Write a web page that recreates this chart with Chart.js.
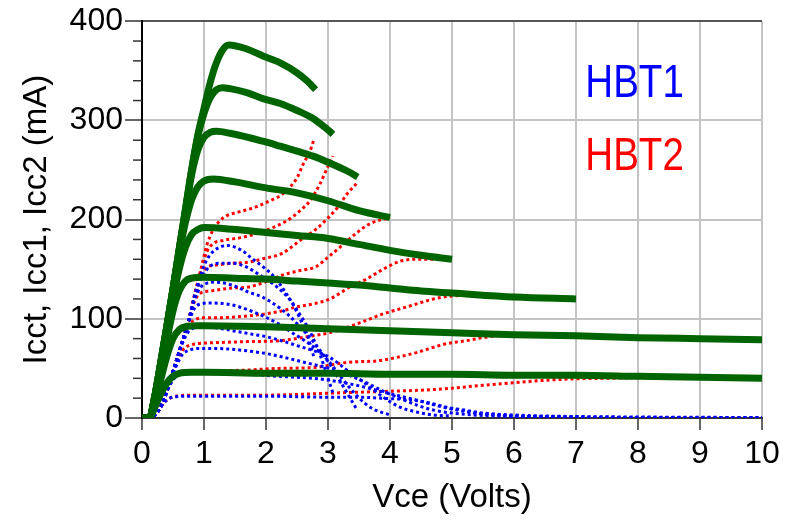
<!DOCTYPE html>
<html><head><meta charset="utf-8">
<script src="https://cdn.jsdelivr.net/npm/chart.js@4.4.1/dist/chart.umd.min.js"></script>
<style>html,body{margin:0;padding:0;background:#fff}canvas{display:block}</style>
</head><body>
<canvas id="c" width="791" height="520"></canvas>
<script>
// ---- data: [Vce (V), current (mA)] ----
const icct1 = [[0,0],[0.12,0],[0.2,10],[0.3,24],[0.4,35],[0.5,42],[0.6,45],[0.8,46],[1,46],[2,45],[3,45],[4,44],[5,44],[6,43],[7,43],[8,42],[9,41],[10,40]];
const icct2 = [[0,0],[0.12,0],[0.2,14],[0.3,38],[0.4,62],[0.5,80],[0.6,89],[0.7,92],[0.9,93],[1,93],[2,92],[3,90],[4,88],[5,86],[6,84],[7,83],[8,81],[9,80],[10,79]];
const icct3 = [[0,0],[0.12,0],[0.2,17],[0.3,46],[0.4,78],[0.5,108],[0.6,128],[0.7,138],[0.8,141],[1,142],[1.5,141],[2,140],[2.5,138],[3,136],[3.5,134],[4,131],[4.5,128],[5,126],[6,122],[7,120]];
const icct4 = [[0,0],[0.12,0],[0.2,19],[0.3,50],[0.4,85],[0.5,120],[0.6,150],[0.7,172],[0.8,185],[0.9,190],[1,192],[1.5,190],[2,187],[2.5,184],[3,181],[3.5,175],[4,169],[4.5,164],[5,160]];
const icct5 = [[0,0],[0.12,0],[0.2,20],[0.3,55],[0.4,92],[0.5,130],[0.6,166],[0.7,197],[0.8,220],[0.9,233],[1,239],[1.15,241],[1.5,238],[2,232],[2.5,227],[3,219],[3.5,209],[4,202]];
const icct6 = [[0,0],[0.12,0],[0.2,20],[0.3,55],[0.4,92],[0.5,130],[0.6,170],[0.7,208],[0.8,245],[0.9,270],[1,283],[1.1,288],[1.2,289],[1.42,287],[1.95,279],[2.23,274],[2.5,269],[2.76,264],[3.03,257],[3.31,249],[3.48,243]];
const icct7 = [[0,0],[0.12,0],[0.2,20],[0.3,55],[0.4,92],[0.5,130],[0.6,170],[0.7,210],[0.8,250],[0.9,284],[1,307],[1.1,323],[1.2,331],[1.3,333],[1.42,332],[1.69,328],[1.95,322],[2.23,317],[2.5,310],[2.76,302],[2.95,293],[3.08,286]];
const icct8 = [[0,0],[0.12,0],[0.2,20],[0.3,55],[0.4,92],[0.5,130],[0.6,170],[0.7,210],[0.8,250],[0.9,285],[1,312],[1.1,338],[1.2,358],[1.3,371],[1.4,376],[1.69,372],[1.95,365],[2.23,358],[2.5,348],[2.66,340],[2.8,331]];

const icc2_1 = [[0,0],[0.12,0],[0.25,6],[0.35,15],[0.45,20],[0.55,22],[0.7,23],[1,23],[2,23],[3,25],[3.5,26],[4,27],[4.5,28],[5,30],[5.5,33],[6,35.5],[6.5,38],[7,39.5],[7.5,40],[8,40.5],[9,40.5],[10,40]];
const icc2_2 = [[0,0],[0.12,0],[0.25,6],[0.35,18],[0.45,34],[0.55,43],[0.65,47],[0.8,48],[1,48],[1.5,48],[2.2,50],[2.8,51],[3,53],[3.3,56],[3.84,58],[4.37,65],[4.92,75],[5.24,78],[5.5,81],[6,84],[7,83],[8,81],[9,80],[10,79]];
const icc2_3 = [[0,0],[0.12,0],[0.25,6],[0.35,18],[0.45,37],[0.55,55],[0.65,68],[0.75,73],[0.9,75],[1.2,76],[1.7,77],[2.23,78],[2.76,83],[3.03,86],[3.3,91],[3.6,98],[3.89,105],[4.16,110],[4.43,115],[4.7,120],[5,123],[5.5,124],[6,122],[7,120]];
const icc2_4 = [[0,0],[0.12,0],[0.25,6],[0.35,18],[0.45,37],[0.55,57],[0.65,77],[0.75,93],[0.85,99],[1,101],[1.2,101],[1.71,103],[2,105],[2.26,108],[2.5,112],[2.76,115],[3.03,120],[3.2,126],[3.35,132],[3.62,140],[3.89,150],[4.16,158],[4.43,160],[5,160]];
const icc2_5 = [[0,0],[0.12,0],[0.25,6],[0.35,18],[0.45,37],[0.55,57],[0.65,77],[0.75,98],[0.85,118],[0.95,126],[1.1,128],[1.45,131],[1.71,132],[1.98,137],[2.26,144],[2.5,148],[2.82,153],[2.98,161],[3.19,172],[3.47,187],[3.68,196],[4,202]];
const icc2_6 = [[0,0],[0.12,0],[0.25,6],[0.35,18],[0.45,37],[0.55,57],[0.65,77],[0.75,98],[0.85,122],[0.95,144],[1.05,152],[1.18,154],[1.45,156],[1.71,157],[1.98,161],[2.26,166],[2.55,179],[2.82,191],[2.99,201],[3.15,212],[3.31,226],[3.47,237]];
const icc2_7 = [[0,0],[0.12,0],[0.25,6],[0.35,18],[0.45,37],[0.55,57],[0.65,77],[0.75,98],[0.85,124],[0.95,148],[1.05,168],[1.15,176],[1.31,179],[1.61,182],[1.9,187],[2.11,192],[2.34,199],[2.55,209],[2.71,219],[2.87,236],[2.98,251],[3.08,264]];
const icc2_8 = [[0,0],[0.12,0],[0.25,6],[0.35,18],[0.45,37],[0.55,57],[0.65,77],[0.75,98],[0.85,125],[0.95,150],[1.05,175],[1.15,190],[1.26,199],[1.37,204],[1.58,208],[1.85,213],[2.06,219],[2.23,224],[2.39,233],[2.5,242],[2.6,256],[2.71,269],[2.77,280]];

const icc1_1 = [[0,0],[0.12,0],[0.25,6],[0.35,15],[0.45,20],[0.55,21.5],[0.7,22],[1,22],[2,22],[3,21],[3.5,21],[3.84,20],[4.37,18],[4.65,15],[4.9,11],[5.2,8],[5.5,5],[6,3],[6.5,2],[7,1.5],[8,1],[9,0.7],[10,0.5]];
const icc1_2 = [[0,0],[0.12,0],[0.25,6],[0.35,18],[0.45,33],[0.55,42],[0.65,45],[0.8,46],[1,46],[1.5,45],[2.2,42],[2.76,40],[3.03,38],[3.3,35],[3.6,31],[3.84,27],[4.37,19],[4.92,10],[5.5,4],[6,2],[7,1],[8,0.5],[10,0.3]];
const icc1_3 = [[0,0],[0.12,0],[0.25,6],[0.35,18],[0.45,36],[0.55,52],[0.65,64],[0.75,68],[0.9,70],[1.2,70],[1.5,69],[2,65],[2.23,62],[2.76,54],[3.03,50],[3.3,44],[3.6,36],[3.89,27],[4.16,20],[4.43,13],[4.7,8],[5,5],[5.5,2.5],[6,1.5],[7,1]];
const icc1_4 = [[0,0],[0.12,0],[0.25,6],[0.35,18],[0.45,37],[0.55,56],[0.65,75],[0.75,87],[0.85,91],[1,92],[1.29,90],[1.55,87],[1.82,84],[2,82],[2.5,73],[3.03,61],[3.35,46],[3.62,34],[3.89,21],[4.16,11],[4.43,6],[4.7,3],[5,2]];
const icc1_5 = [[0,0],[0.12,0],[0.25,6],[0.35,18],[0.45,37],[0.55,57],[0.65,77],[0.75,96],[0.85,111],[0.95,115],[1.1,116],[1.45,114],[1.71,109],[1.98,102],[2.2,95],[2.42,86],[2.6,79],[2.82,69],[3,58],[3.2,42],[3.47,22],[3.7,10],[4,3]];
const icc1_6 = [[0,0],[0.12,0],[0.25,6],[0.35,18],[0.45,37],[0.55,57],[0.65,77],[0.75,98],[0.85,120],[0.95,132],[1.05,136],[1.18,137],[1.45,134],[1.71,127],[1.94,122],[2.15,114],[2.36,104],[2.5,95],[2.75,78],[3,57],[3.15,42],[3.31,25],[3.47,8]];
const icc1_7 = [[0,0],[0.12,0],[0.25,6],[0.35,18],[0.45,37],[0.55,57],[0.65,77],[0.75,98],[0.85,122],[0.95,140],[1.05,150],[1.15,155],[1.26,156],[1.47,156],[1.69,152],[1.95,142],[2.18,132],[2.39,119],[2.55,104],[2.71,87],[2.87,64],[2.98,44],[3.08,25]];
const icc1_8 = [[0,0],[0.12,0],[0.25,6],[0.35,18],[0.45,37],[0.55,57],[0.65,77],[0.75,98],[0.85,124],[0.95,145],[1.05,160],[1.15,168],[1.25,172],[1.37,174],[1.61,169],[1.77,161],[1.98,151],[2.15,141],[2.31,127],[2.44,114],[2.55,100],[2.66,85],[2.77,62]];

const icctSeries = [icct1, icct2, icct3, icct4, icct5, icct6, icct7, icct8];
const icc1Series = [icc1_1, icc1_2, icc1_3, icc1_4, icc1_5, icc1_6, icc1_7, icc1_8];
const icc2Series = [icc2_1, icc2_2, icc2_3, icc2_4, icc2_5, icc2_6, icc2_7, icc2_8];

const xRange = [0, 10];
const yRange = [0, 400];
const yMajorStep = 100;
const yMinorStep = 20;
const xTitle = 'Vce (Volts)';
const yTitle = 'Icct, Icc1, Icc2 (mA)';
const deviceNames = ['HBT1', 'HBT2'];

// ---- styling ----
const FONT = "'Liberation Sans', Arial, sans-serif";
const GREEN = '#006400', BLUE = '#0000ff', RED = '#ff0000';

function ds(arr, color, width, dash) {
  return {
    data: arr.map(p => ({x: p[0], y: p[1]})),
    showLine: true, borderColor: color, backgroundColor: color,
    borderWidth: width, borderDash: dash || [], pointRadius: 0, pointHoverRadius: 0,
    fill: false, cubicInterpolationMode: 'monotone',
    borderCapStyle: 'butt', borderJoinStyle: 'round'
  };
}

// Chart.js paints dataset 0 last (on top): green first, then blue, then red
const datasets = [];
icctSeries.forEach(a => datasets.push(ds(a, GREEN, 7)));
icc1Series.forEach(a => datasets.push(ds(a, BLUE, 3, [3, 3])));
icc2Series.forEach(a => datasets.push(ds(a, RED, 3, [3, 3])));

const minorTicks = {
  id: 'minorTicks',
  afterDraw(chart) {
    const y = chart.scales.y, ctx = chart.ctx;
    ctx.save();
    ctx.strokeStyle = '#333'; ctx.lineWidth = 1.5;
    for (let v = yRange[0]; v <= yRange[1]; v += yMinorStep) {
      if (v % yMajorStep === 0) continue;
      const py = y.getPixelForValue(v);
      ctx.beginPath(); ctx.moveTo(y.right - 9, py); ctx.lineTo(y.right, py); ctx.stroke();
    }
    ctx.restore();
  }
};

const deviceLabels = {
  id: 'deviceLabels',
  afterDraw(chart) {
    const {x, y} = chart.scales, ctx = chart.ctx;
    const spots = [[7.15, 324, BLUE], [7.15, 250, RED]];
    ctx.save();
    ctx.font = '47px ' + FONT;
    ctx.textBaseline = 'alphabetic'; ctx.textAlign = 'left';
    deviceNames.forEach((t, i) => {
      const [vx, vy, col] = spots[i];
      ctx.save();
      ctx.translate(x.getPixelForValue(vx), y.getPixelForValue(vy));
      ctx.scale(0.82, 1);
      ctx.fillStyle = col;
      ctx.fillText(t, 0, 0);
      ctx.restore();
    });
    ctx.restore();
  }
};

new Chart(document.getElementById('c'), {
  type: 'scatter',
  data: {datasets},
  options: {
    responsive: false, animation: false, devicePixelRatio: 1,
    layout: {padding: {left: 0, top: 20, right: 29, bottom: 0}},
    plugins: {legend: {display: false}, tooltip: {enabled: false}},
    scales: {
      x: {
        type: 'linear', min: xRange[0], max: xRange[1], position: 'bottom',
        ticks: {stepSize: 1, font: {family: FONT, size: 32}, color: '#000', padding: 5, maxRotation: 0, autoSkip: false},
        grid: {color: c => c.tick && c.tick.value === 0 ? 'rgba(0,0,0,0)' : '#c4c4c4', lineWidth: 2, tickLength: 12, tickColor: '#333', tickWidth: 1.5},
        border: {color: '#333', width: 2},
        title: {display: true, text: xTitle, font: {family: FONT, size: 33}, color: '#000', padding: {top: 0, bottom: 2}},
        afterFit: s => { s.height = 102; }
      },
      y: {
        type: 'linear', min: yRange[0], max: yRange[1], position: 'left',
        ticks: {stepSize: yMajorStep, font: {family: FONT, size: 32}, color: '#000', padding: 2},
        grid: {color: c => c.tick && c.tick.value === yRange[1] ? '#555' : '#c4c4c4', lineWidth: 2, tickLength: 17, tickColor: '#333', tickWidth: 1.5},
        border: {color: '#000', width: 2},
        title: {display: true, text: yTitle, font: {family: FONT, size: 33}, color: '#000', padding: {top: 17, bottom: 0}},
        afterFit: s => { s.width = 142; }
      }
    }
  },
  plugins: [minorTicks, deviceLabels]
});
</script>
</body></html>
